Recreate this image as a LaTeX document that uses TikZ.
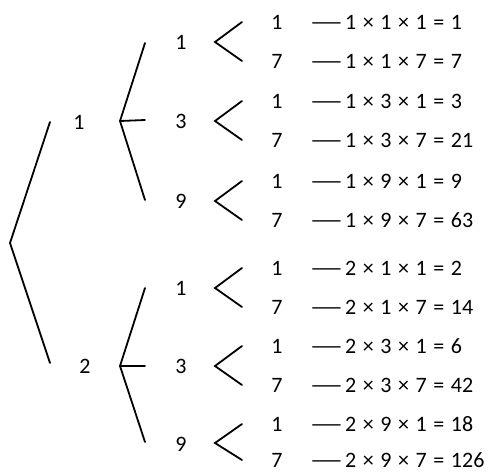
\documentclass[tikz,border=0pt]{standalone}
\usepackage{fontspec}
\setmainfont{Carlito}
\usepackage{graphicx}
\usepackage{tikz}

\newcommand{\longdash}{\scalebox{1.75}[1]{—}\kern1pt}
\newcommand{\prodfont}{\fontsize{22}{26}\selectfont\spaceskip=6.6pt\relax}

\tikzset{
  num/.style={inner sep=0pt, font=\fontsize{22}{26}\selectfont},
  prod/.style={inner sep=0pt, anchor=west, font=\prodfont},
  branch/.style={line width=1.8pt, line cap=round, line join=miter}
}

\begin{document}
\begin{tikzpicture}[x=1pt,y=-1pt]
    \useasboundingbox (0,0) rectangle (489,471);
    % --- ROOT AND FIRST LEVEL ---
    \coordinate (r) at (10,243);
    \node[num] (n1) at (79,122) {1};
    \node[num] (n2) at (85,366) {2};
    \coordinate (n1in) at (50,122);
    \coordinate (n2in) at (50,363);
    \draw[branch] (n1in) -- (r) -- (n2in);

    % --- SECOND LEVEL ---
    \coordinate (n1out) at (120,121);
    \coordinate (n2out) at (120,366);
    \node[num] (n11) at (181,42) {1};
    \node[num] (n13) at (181,121) {3};
    \node[num] (n19) at (181,201) {9};
    \node[num] (n21) at (181,288) {1};
    \node[num] (n23) at (181,366) {3};
    \node[num] (n29) at (181,444) {9};
    \coordinate (n11in) at (145,43);
    \coordinate (n13in) at (145,120);
    \coordinate (n19in) at (145,200);
    \coordinate (n21in) at (145,288);
    \coordinate (n23in) at (145,366);
    \coordinate (n29in) at (145,442);
    \draw[branch] (n11in) -- (n1out) -- (n19in);
    \draw[branch] (n1out) -- (n13in);
    \draw[branch] (n21in) -- (n2out) -- (n29in);
    \draw[branch] (n2out) -- (n23in);

    % --- LEAVES ---
    \node[num] (n111) at (277,22) {1};  \node[prod] (p111) at (309,22) {\longdash1 × 1 × 1 = 1};
    \node[num] (n117) at (277,61) {7};  \node[prod] (p117) at (309,61) {\longdash1 × 1 × 7 = 7};
    \node[num] (n131) at (277,101) {1}; \node[prod] (p131) at (309,101) {\longdash1 × 3 × 1 = 3};
    \node[num] (n137) at (277,140) {7}; \node[prod] (p137) at (309,140) {\longdash1 × 3 × 7 = 21};
    \node[num] (n191) at (277,181) {1}; \node[prod] (p191) at (309,181) {\longdash1 × 9 × 1 = 9};
    \node[num] (n197) at (277,220) {7}; \node[prod] (p197) at (309,220) {\longdash1 × 9 × 7 = 63};
    \node[num] (n211) at (277,268) {1}; \node[prod] (p211) at (309,268) {\longdash2 × 1 × 1 = 2};
    \node[num] (n217) at (277,307) {7}; \node[prod] (p217) at (309,307) {\longdash2 × 1 × 7 = 14};
    \node[num] (n231) at (277,346) {1}; \node[prod] (p231) at (309,346) {\longdash2 × 3 × 1 = 6};
    \node[num] (n237) at (277,385) {7}; \node[prod] (p237) at (309,385) {\longdash2 × 3 × 7 = 42};
    \node[num] (n291) at (277,424) {1}; \node[prod] (p291) at (309,424) {\longdash2 × 9 × 1 = 18};
    \node[num] (n297) at (277,460) {7}; \node[prod] (p297) at (309,460) {\longdash2 × 9 × 7 = 126};

    % --- BRACKETS ---
    \coordinate (n11out) at (215,42);
    \coordinate (n13out) at (215,121);
    \coordinate (n19out) at (215,201);
    \coordinate (n21out) at (215,288);
    \coordinate (n23out) at (215,366);
    \coordinate (n29out) at (215,443);
    \foreach \p/\a/\b in {n11/n111/n117, n13/n131/n137, n19/n191/n197,
                          n21/n211/n217, n23/n231/n237, n29/n291/n297}
        \draw[branch] ([xshift=-35pt]\a.center) -- (\p out) -- ([xshift=-35pt]\b.center);
\end{tikzpicture}
\end{document}
